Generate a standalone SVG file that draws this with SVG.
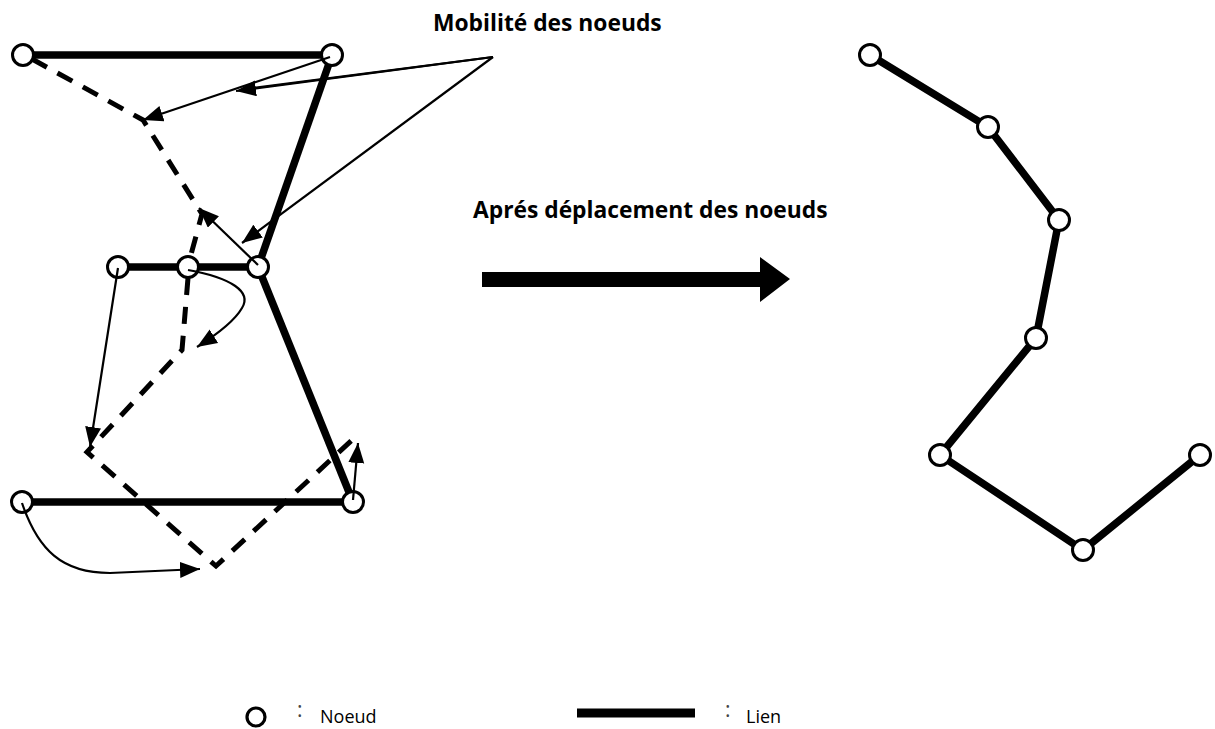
<svg xmlns="http://www.w3.org/2000/svg" width="1215" height="729" viewBox="0 0 1215 729">
  <style>
    .link { stroke: #000; stroke-width: 7.5; fill: none; }
    .trail { stroke: #000; stroke-width: 5; fill: none; stroke-dasharray: 17 12; }
    .move { stroke: #000; stroke-width: 2.2; fill: none; marker-end: url(#head); }
    .plain { stroke: #000; stroke-width: 2.2; fill: none; }
    .node circle { fill: #fff; stroke: #000; stroke-width: 3; }
    .title { font-family: "Open Sans", "Liberation Sans", sans-serif; font-weight: bold; font-size: 22.8px; fill: #000; }
    .legend { font-family: "Open Sans", "Liberation Sans", sans-serif; font-size: 18px; fill: #000; }
    .colon { font-family: "Open Sans", "Liberation Sans", sans-serif; font-size: 21px; fill: #444; }
  </style>
  <defs>
    <marker id="head" markerUnits="userSpaceOnUse" markerWidth="22" markerHeight="18" refX="20" refY="8" orient="auto">
      <path d="M0,0 L20,8 L0,16 z" fill="#000"/>
    </marker>
  </defs>
  <rect width="1215" height="729" fill="#fff"/>

  <!-- links of the network before the move -->
  <g id="links-before">
    <line class="link" x1="23" y1="55" x2="332" y2="55"/>
    <line class="link" x1="332" y1="55" x2="258" y2="267"/>
    <line class="link" x1="118" y1="267" x2="258" y2="267"/>
    <line class="link" x1="258" y1="267" x2="353" y2="502"/>
    <line class="link" x1="22" y1="502" x2="353" y2="502"/>
  </g>

  <!-- dashed outline of the displaced topology -->
  <g id="trail">
    <polyline class="trail" points="32,59 143,120 202,214 189,262"/>
    <polyline class="trail" points="188,278 182,350 87,452 216,566 352,440"/>
  </g>

  <!-- nodes of the network before the move -->
  <g id="node-a" class="node"><circle cx="23" cy="55" r="10.5"/></g>
  <g id="node-b" class="node"><circle cx="332" cy="55" r="10.5"/></g>
  <g id="node-c" class="node"><circle cx="118" cy="267" r="10.5"/></g>
  <g id="node-d" class="node"><circle cx="188" cy="267" r="10.5"/></g>
  <g id="node-e" class="node"><circle cx="258" cy="267" r="10.5"/></g>
  <g id="node-f" class="node"><circle cx="22" cy="502" r="10.5"/></g>
  <g id="node-g" class="node"><circle cx="353" cy="502" r="10.5"/></g>

  <!-- movement arrows -->
  <g id="moves">
    <line class="move" x1="330" y1="57" x2="143" y2="120"/>
    <line class="move" x1="258" y1="265" x2="199" y2="208"/>
    <line class="move" x1="118" y1="268" x2="90" y2="447"/>
    <path class="move" d="M188,270 C232,278 252,292 242,308 C234,322 216,335 197,347"/>
    <path class="move" d="M22,503 C38,550 62,573 110,573 L200,569"/>
    <line class="move" x1="353" y1="500" x2="358" y2="443"/>
    <!-- pointers from the caption -->
    <line class="plain" x1="493" y1="57" x2="245" y2="89"/>
    <line class="move" x1="493" y1="57" x2="236" y2="91"/>
    <line class="move" x1="493" y1="57" x2="242" y2="243"/>
  </g>

  <!-- captions -->
  <g id="caption-mobility">
    <text class="title" x="433" y="31">Mobilité des noeuds</text>
  </g>
  <g id="caption-after">
    <text class="title" x="473" y="218">Aprés déplacement des noeuds</text>
  </g>

  <!-- transition arrow -->
  <g id="transition">
    <polygon points="482,272 760,272 760,257 790,279 760,302 760,287 482,287" fill="#000"/>
  </g>

  <!-- network after the move -->
  <g id="links-after">
    <polyline class="link" points="870,55 988,127 1059,220 1036,338 940,455 1083,550 1200,455"/>
  </g>
  <g id="node-1" class="node"><circle cx="870" cy="55" r="10.5"/></g>
  <g id="node-2" class="node"><circle cx="988" cy="127" r="10.5"/></g>
  <g id="node-3" class="node"><circle cx="1059" cy="220" r="10.5"/></g>
  <g id="node-4" class="node"><circle cx="1036" cy="338" r="10.5"/></g>
  <g id="node-5" class="node"><circle cx="940" cy="455" r="10.5"/></g>
  <g id="node-6" class="node"><circle cx="1083" cy="550" r="10.5"/></g>
  <g id="node-7" class="node"><circle cx="1200" cy="455" r="10.5"/></g>

  <!-- legend -->
  <g id="legend-node">
    <circle cx="256" cy="717" r="9" fill="#fff" stroke="#000" stroke-width="3.2"/>
    <text class="colon" x="297" y="717">:</text>
    <text class="legend" x="320" y="723">Noeud</text>
  </g>
  <g id="legend-link">
    <line x1="577" y1="713" x2="695" y2="713" stroke="#000" stroke-width="9"/>
    <text class="colon" x="725" y="717">:</text>
    <text class="legend" x="746" y="723">Lien</text>
  </g>
</svg>
